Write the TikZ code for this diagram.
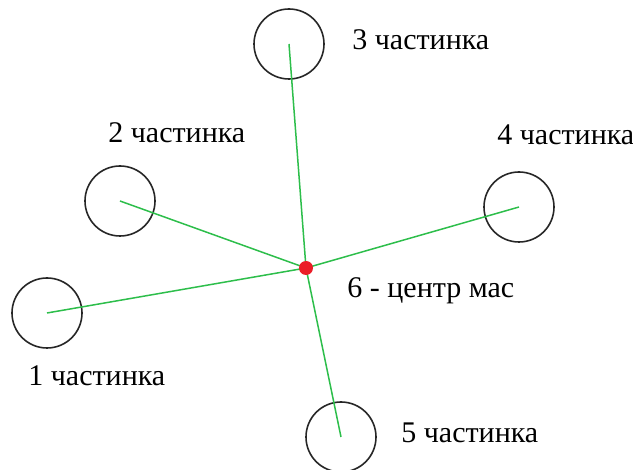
\documentclass[tikz,border=0pt]{standalone}
\usepackage{fontspec}
\setmainfont{Liberation Serif}
\definecolor{linkgreen}{RGB}{45,190,75}
\definecolor{cmred}{RGB}{235,30,40}
\begin{document}
\begin{tikzpicture}[x=0.5pt,y=-0.5pt,
  particle/.style={circle,draw=black!85,line width=0.8pt,minimum size=35pt,inner sep=0pt},
  link/.style={draw=linkgreen,line width=0.75pt},
  label/.style={anchor=base west,inner sep=0pt,font=\fontsize{15}{18}\selectfont}]
\useasboundingbox (0,0) rectangle (633,470);
% particles
\node[particle] (p1) at (47,313) {};
\node[particle] (p2) at (120,201) {};
\node[particle] (p3) at (289,44) {};
\node[particle] (p4) at (519,207) {};
\node[particle] (p5) at (341,437) {};
% centre of mass
\coordinate (cm) at (306,268);
% links from the centre of mass to each particle
\foreach \p in {p1,p2,p3,p4,p5} \draw[link] (cm) -- (\p.center);
\fill[cmred] (cm) circle (3.5pt);
% labels
\node[label] (l1) at (28,386) {1 частинка};
\node[label] (l2) at (108,143) {2 частинка};
\node[label] (l3) at (352,50) {3 частинка};
\node[label] (l4) at (497,145) {4 частинка};
\node[label] (l5) at (401,443) {5 частинка};
\node[label] (l6) at (347,298) {6 - центр мас};
\end{tikzpicture}
\end{document}
